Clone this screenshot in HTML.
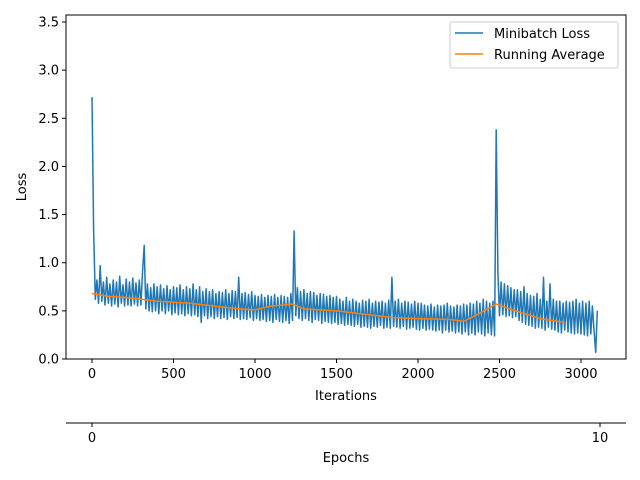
<!DOCTYPE html>
<html><head><meta charset="utf-8"><style>
body{margin:0;background:#fff;}
svg{display:block;font-family:"DejaVu Sans","Liberation Sans",sans-serif;}
</style></head><body>
<svg id="chart" width="640" height="480" viewBox="0 0 640 480">
<rect width="640" height="480" fill="#fff"/>
<g id="plot"></g>
</svg>
<script>
const lossStep = 10;
const lossValues = [2.72,1.35,0.62,0.82,0.58,0.97,0.6,0.8,0.56,0.85,0.58,0.78,0.55,0.82,0.57,0.8,0.54,0.86,0.58,0.77,0.55,0.83,0.56,0.8,0.55,0.84,0.57,0.79,0.55,0.82,0.56,
0.9,1.18,0.52,0.78,0.5,0.74,0.49,0.78,0.5,0.75,0.47,0.77,0.5,0.73,0.47,0.76,0.5,0.72,0.46,0.75,0.48,0.74,0.46,0.77,0.47,0.72,0.45,0.75,0.47,0.73,
0.45,0.78,0.46,0.72,0.44,0.75,0.38,0.7,0.45,0.73,0.42,0.7,0.44,0.72,0.42,0.68,0.44,0.7,0.42,0.69,0.43,0.72,0.41,0.68,0.44,0.71,0.42,0.7,0.43,0.85,0.41,0.68,0.42,0.69,0.41,0.67,0.43,0.7,0.4,0.66,
0.42,0.65,0.4,0.67,0.41,0.64,0.39,0.66,0.4,0.65,0.38,0.67,0.41,0.64,0.39,0.66,0.38,0.65,0.4,0.64,0.37,0.68,0.4,
1.33,
0.45,0.74,0.42,0.7,0.4,0.72,0.42,0.68,0.4,0.7,0.38,0.69,0.41,0.66,0.4,0.68,0.37,0.67,0.39,0.65,0.38,0.66,0.37,0.64,0.38,0.65,
0.36,0.62,0.37,0.6,0.35,0.64,0.36,0.6,0.35,0.62,0.34,0.6,0.36,0.58,0.33,0.61,0.34,0.6,0.33,0.62,0.32,0.58,0.34,0.6,0.33,0.59,0.35,0.6,0.32,0.58,0.33,0.61,0.32,0.85,0.34,0.6,0.33,0.62,0.32,0.58,0.34,0.6,0.31,0.59,0.32,0.57,0.33,0.6,0.31,0.58,
0.3,0.58,0.32,0.56,0.3,0.55,0.31,0.57,0.3,0.54,0.29,0.56,0.3,0.55,0.27,0.56,0.3,0.58,0.28,0.55,0.29,0.54,0.27,0.56,0.28,0.55,0.26,0.57,0.28,0.56,0.25,0.58,0.27,0.57,0.25,0.6,0.28,0.58,0.26,0.62,0.24,0.6,0.27,0.58,0.25,0.6,0.24,
2.38,
0.9,0.45,0.8,0.46,0.78,0.44,0.76,0.45,0.74,0.43,0.72,0.44,
0.72,0.4,0.7,0.38,0.75,0.36,0.68,0.35,0.66,0.34,0.65,0.32,0.68,0.33,0.62,0.32,0.85,0.3,0.6,0.33,0.78,0.31,0.62,0.3,0.6,0.28,0.6,0.27,0.58,0.3,0.6,0.28,0.59,0.27,0.6,0.26,0.62,0.27,0.58,0.26,0.6,0.25,0.58,0.24,0.6,0.26,0.55,0.3,0.07,0.5];
const avgIters = [0,100,200,300,400,500,600,700,800,900,1000,1100,1230,1300,1500,1700,1850,2000,2200,2280,2350,2480,2600,2750,2900];
const avgValues = [0.68,0.65,0.64,0.62,0.6,0.59,0.58,0.56,0.54,0.52,0.51,0.55,0.57,0.52,0.5,0.46,0.43,0.42,0.41,0.39,0.45,0.57,0.5,0.42,0.38];
const xTicks = [0,500,1000,1500,2000,2500,3000];
const yTicks = [0,0.5,1,1.5,2,2.5,3,3.5];
const epochTicks = [0,10];

const NS='http://www.w3.org/2000/svg';
const g=document.getElementById('plot');
const L=66,R=626,T=15,B=359;
const FS=13;
const xs=v=>92+v*(489/3000);
const ys=v=>359-v*(337/3.5);
const ex=v=>92+v*(508/10);
function el(tag,attrs,parent){const e=document.createElementNS(NS,tag);for(const k in attrs)e.setAttribute(k,attrs[k]);(parent||g).appendChild(e);return e;}
function txt(s,attrs){const e=el('text',attrs);e.textContent=s;return e;}

const clip=el('clipPath',{id:'c'});el('rect',{x:L,y:T,width:R-L,height:B-T},clip);

let d='';lossValues.forEach((v,i)=>{d+=(i?'L':'M')+xs(i*lossStep).toFixed(1)+' '+ys(v).toFixed(1);});
const loss=el('path',{d:d,fill:'none',stroke:'#1f77b4','stroke-width':1.5,'stroke-linejoin':'round','clip-path':'url(#c)'});


let d2='';avgIters.forEach((t,i)=>{d2+=(i?'L':'M')+xs(t).toFixed(1)+' '+ys(avgValues[i]).toFixed(1);});
const avg=el('path',{d:d2,fill:'none',stroke:'#ff7f0e','stroke-width':1.5});



const frame=el('rect',{x:L,y:T,width:R-L,height:B-T,fill:'none',stroke:'#000','stroke-width':1});



xTicks.forEach(t=>{const x=xs(t);el('line',{x1:x,x2:x,y1:B,y2:B+4,stroke:'#000'});
const l=txt(String(t),{x:x,y:B+19,'font-size':FS,'text-anchor':'middle'});

});
yTicks.forEach(t=>{const y=ys(t);el('line',{x1:L-4,x2:L,y1:y,y2:y,stroke:'#000'});
const l=txt(t.toFixed(1),{x:L-7,y:y+4.5,'font-size':FS,'text-anchor':'end'});

});
const xt=txt('Iterations',{x:346,y:400,'font-size':FS,'text-anchor':'middle'});


const yt=txt('Loss',{x:0,y:0,'font-size':FS,'text-anchor':'middle',transform:'translate(26,187) rotate(-90)'});



const eax=el('line',{x1:L,x2:R,y1:423,y2:423,stroke:'#000'});


epochTicks.forEach(t=>{const x=ex(t);el('line',{x1:x,x2:x,y1:423,y2:427,stroke:'#000'});
const l=txt(String(t),{x:x,y:442,'font-size':FS,'text-anchor':'middle'});

});
const et=txt('Epochs',{x:346,y:462,'font-size':FS,'text-anchor':'middle'});



const lg=el('g',{});


el('rect',{x:450,y:22,width:168,height:46,rx:2,fill:'#fff',stroke:'#ccc'},lg);
el('line',{x1:455,x2:483,y1:33,y2:33,stroke:'#1f77b4','stroke-width':1.5},lg);
el('line',{x1:455,x2:483,y1:54,y2:54,stroke:'#ff7f0e','stroke-width':1.5},lg);
const t1=el('text',{x:494,y:38,'font-size':FS},lg);t1.textContent='Minibatch Loss';


const t2=el('text',{x:494,y:59,'font-size':FS},lg);t2.textContent='Running Average';


</script>
</body></html>
